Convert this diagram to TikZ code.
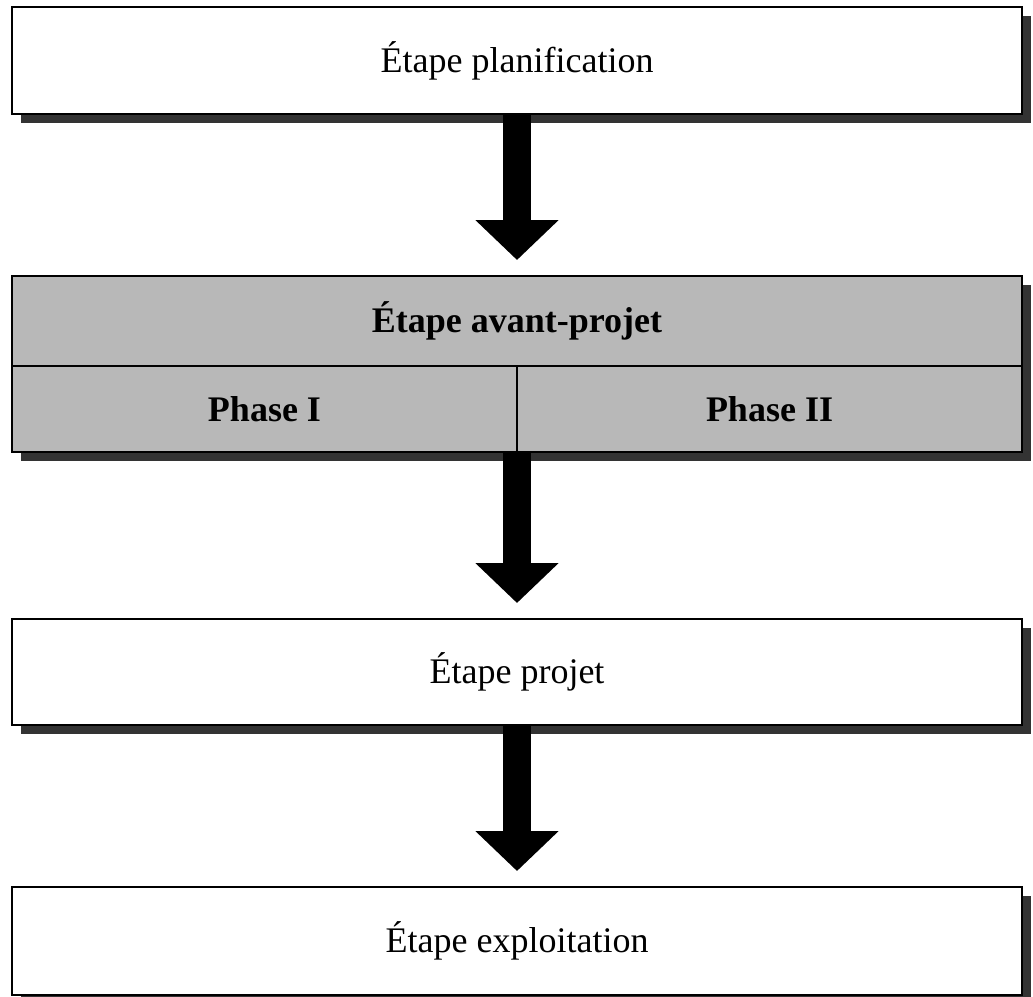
\documentclass[tikz,border=0pt]{standalone}
\usepackage{fontspec}
\setmainfont{Liberation Serif}
\usetikzlibrary{arrows.meta,shadows}

\tikzset{
  stage/.style={draw, line width=1pt, fill=white, minimum width=505pt,
    inner sep=0pt, outer sep=0pt, font=\fontsize{18}{21}\selectfont,
    drop shadow={shadow xshift=4.5pt, shadow yshift=-4.5pt,
      fill=black!80, opacity=1}},
  graystage/.style={stage, fill=black!28, font=\fontsize{18}{21}\selectfont\bfseries},
  bigarrow/.style={line width=14pt, shorten >=8pt,
    -{Triangle[width=40.5pt,length=20pt]}}
}

\begin{document}
\begin{tikzpicture}[x=0.5pt, y=-0.5pt]
\useasboundingbox (0, 0) rectangle (1033, 996);

\node[stage, minimum height=53.5pt] (plan) at (517, 60.5) {Étape planification};

\node[graystage, minimum height=45pt] (avant) at (517, 321) {Étape avant-projet};
\node[graystage, minimum height=43pt, minimum width=252.5pt, anchor=north west]
  (phaseI) at (avant.south west) {Phase I};
\node[graystage, minimum height=43pt, minimum width=252.5pt, anchor=north west]
  (phaseII) at (phaseI.north east) {Phase II};

\node[stage, minimum height=53pt] (projet) at (517, 672) {Étape projet};
\node[stage, minimum height=54pt] (exploit) at (517, 941) {Étape exploitation};

\draw[bigarrow] (plan) -- (avant);
\draw[bigarrow] (phaseI.south east) -- (projet.north);
\draw[bigarrow] (projet) -- (exploit);

\end{tikzpicture}
\end{document}
